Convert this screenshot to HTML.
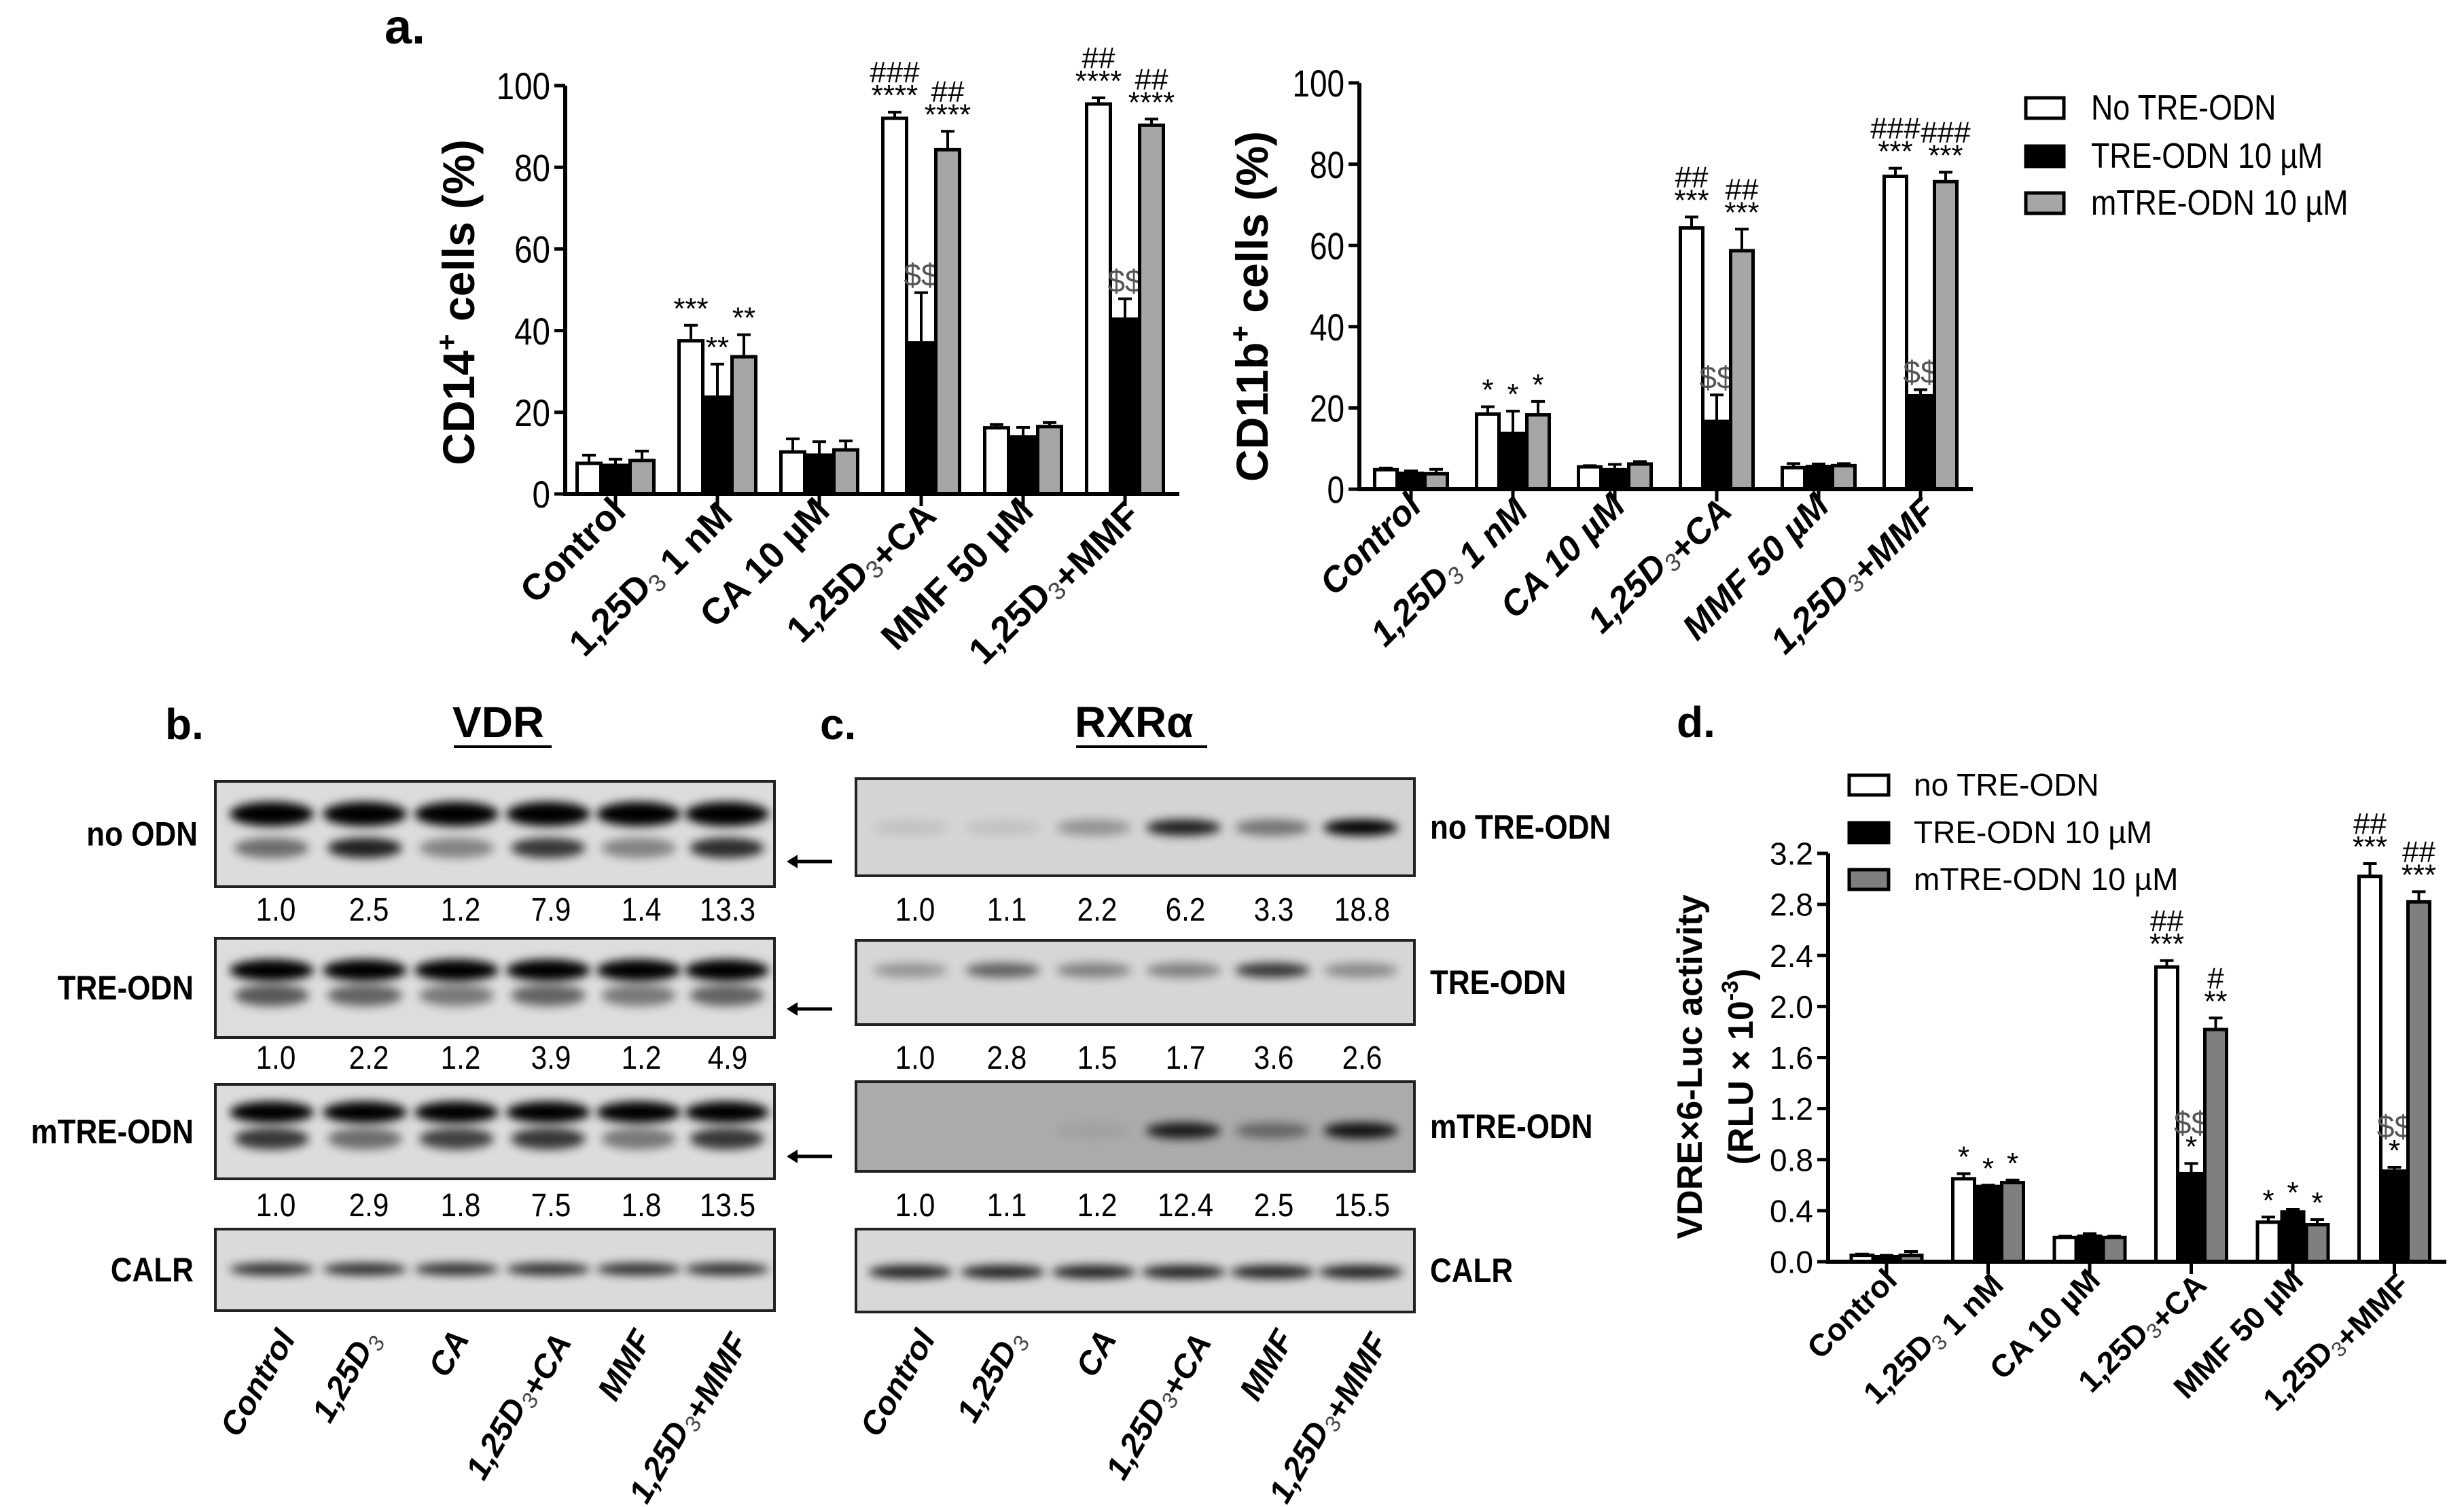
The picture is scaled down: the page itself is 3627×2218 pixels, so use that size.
<!DOCTYPE html>
<html><head><meta charset="utf-8"><title>Figure</title>
<style>
html,body{margin:0;padding:0;background:#fff;}
svg{display:block;font-family:"Liberation Sans",Arial,sans-serif;}
</style></head>
<body>
<svg id="fig" xmlns="http://www.w3.org/2000/svg" width="3627" height="2218" viewBox="0 0 3627 2218">
<defs>
<filter id="blur" x="-50%" y="-200%" width="200%" height="500%"><feGaussianBlur stdDeviation="7"/></filter>
</defs>
<g id="root"></g>
</svg>
<script>
// ---------- data ----------
const categories = ["Control","1,25D3 1 nM","CA 10 µM","1,25D3+CA","MMF 50 µM","1,25D3+MMF"];
const seriesNames = ["No TRE-ODN","TRE-ODN 10 µM","mTRE-ODN 10 µM"];
const seriesNamesD = ["no TRE-ODN","TRE-ODN 10 µM","mTRE-ODN 10 µM"];
// Panel a left: CD14+ (category order)
const cd14W = [7.5,37.5,10.3,92,16.2,95.5];
const cd14B = [7,23.7,9.5,37,14,42.8];
const cd14G = [8.2,33.6,10.8,84.3,16.5,90.3];
const cd14WE = [9.5,41.3,13.5,93.5,17,97];
const cd14BE = [8.5,31.8,12.8,49.3,16.3,47.8];
const cd14GE = [10.5,39,13,88.8,17.5,91.8];
const cd14Ann = [[["",""],["",""],["",""]],[["***",""],["**",""],["**",""]],[["",""],["",""],["",""]],[["****","###"],["$$",""],["****","##"]],[["",""],["",""],["",""]],[["****","##"],["$$",""],["****","##"]]];
const yTicksA = [0,20,40,60,80,100];
// Panel a right: CD11b+
const cd11W = [4.8,18.5,5.5,64.3,5.3,77];
const cd11B = [3.9,13.7,4.8,16.7,5.6,23];
const cd11G = [3.8,18.3,6.2,58.7,5.8,75.7];
const cd11WE = [5.2,20.3,5.8,67,6.3,79];
const cd11BE = [4.5,19.2,6.1,23.2,6.2,24.5];
const cd11GE = [4.9,21.6,6.8,64,6.3,78];
const cd11Ann = [[["",""],["",""],["",""]],[["*",""],["*",""],["*",""]],[["",""],["",""],["",""]],[["***","##"],["$$",""],["***","##"]],[["",""],["",""],["",""]],[["***","###"],["$$",""],["***","###"]]];
// Panel d: luciferase
const lucW = [0.05,0.65,0.19,2.31,0.31,3.02];
const lucB = [0.04,0.59,0.2,0.69,0.39,0.71];
const lucG = [0.05,0.62,0.19,1.82,0.29,2.82];
const lucWE = [0.06,0.69,0.2,2.36,0.35,3.12];
const lucBE = [0.05,0.6,0.22,0.77,0.41,0.74];
const lucGE = [0.08,0.64,0.2,1.91,0.33,2.9];
const lucAnn = [[["",""],["",""],["",""]],[["*",""],["*",""],["*",""]],[["",""],["",""],["",""]],[["***","##"],["*","$$"],["**","#"]],[["*",""],["*",""],["*",""]],[["***","##"],["*","$$"],["***","##"]]];
const yTicksD = [0,0.4,0.8,1.2,1.6,2.0,2.4,2.8,3.2];
// Blots
const laneLabels = ["Control","1,25D3","CA","1,25D3+CA","MMF","1,25D3+MMF"];
const vdrNoOdn = ["1.0","2.5","1.2","7.9","1.4","13.3"];
const vdrTre = ["1.0","2.2","1.2","3.9","1.2","4.9"];
const vdrMtre = ["1.0","2.9","1.8","7.5","1.8","13.5"];
const rxrNoTre = ["1.0","1.1","2.2","6.2","3.3","18.8"];
const rxrTre = ["1.0","2.8","1.5","1.7","3.6","2.6"];
const rxrMtre = ["1.0","1.1","1.2","12.4","2.5","15.5"];
const vdrLowerNoOdn = [0.5,0.85,0.4,0.75,0.4,0.8];
const vdrLowerTre = [0.6,0.55,0.45,0.55,0.45,0.55];
const vdrLowerMtre = [0.75,0.5,0.7,0.75,0.45,0.75];
const rxrBandNoTre = [0.08,0.08,0.3,0.85,0.45,1];
const rxrBandTre = [0.3,0.55,0.4,0.4,0.75,0.35];
const rxrBandMtre = [0,0,0.05,0.85,0.4,0.9];

// ---------- helpers ----------
const NS="http://www.w3.org/2000/svg";
const root=document.getElementById('root');
function el(tag,attrs,parent){const e=document.createElementNS(NS,tag);for(const k in attrs)e.setAttribute(k,attrs[k]);(parent||root).appendChild(e);return e;}
function addLabel(parent,str){
  const parts=str.split("D3");
  parts.forEach((p,i)=>{
    if(p){const t=document.createElementNS(NS,'tspan');t.textContent=p;parent.appendChild(t);}
    if(i<parts.length-1){
      const d=document.createElementNS(NS,'tspan');d.textContent="D";parent.appendChild(d);
      const s=document.createElementNS(NS,'tspan');s.textContent="3";s.setAttribute('font-size','0.68em');s.setAttribute('dy','10');s.setAttribute('font-weight','normal');s.setAttribute('fill','#444');parent.appendChild(s);
      const r=document.createElementNS(NS,'tspan');r.setAttribute('dy','-10');r.textContent="";parent.appendChild(r);
    }
  });
}

function barChart(cfg){
  const g=el('g',{});
  
  
  const yScale=v=>cfg.y0-(v-cfg.ymin)/(cfg.ymax-cfg.ymin)*(cfg.y0-cfg.ytop);
  const xScale=i=>cfg.x0+i*cfg.step;
  const fills=["#ffffff","#000000",cfg.gray];
  cfg.vals.forEach((arr,s)=>{
    arr.forEach((v,i)=>{
      const cx=xScale(i)+(s-1)*cfg.bw;
      const e=cfg.errs[s][i];
      const eline=el('line',{x1:cx,x2:cx,y1:yScale(v),y2:yScale(e),stroke:"#000","stroke-width":4},g);
      
      
      const cap=el('line',{x1:cx-10,x2:cx+10,y1:yScale(e),y2:yScale(e),stroke:"#000","stroke-width":4},g);
      
      
      const r=el('rect',{x:cx-cfg.bw/2+2,y:yScale(v),width:cfg.bw-4,height:Math.max(0,cfg.y0-yScale(v)),fill:fills[s],stroke:"#000","stroke-width":5},g);
      
      
      const a=cfg.ann[i][s];
      let yy=yScale(e)-10;
      a.forEach((txt)=>{
        if(!txt)return;
        const isD=txt[0]==='$';
        const t=el('text',{x:cx,y:yy,'text-anchor':'middle','font-size':isD?46:44,fill:isD?'#555':'#000'},g);
        t.textContent=txt;
        
        
        yy-= (txt[0]==='*')?34:46;
      });
    });
  });
  const ya=el('line',{x1:cfg.ax,x2:cfg.ax,y1:cfg.y0+3,y2:cfg.ytop,stroke:"#000","stroke-width":6},g);
  
  
  const xa=el('line',{x1:cfg.ax-3,x2:cfg.xend,y1:cfg.y0,y2:cfg.y0,stroke:"#000","stroke-width":6},g);
  
  
  cfg.ticks.forEach(v=>{
    const y=yScale(v);
    el('line',{x1:cfg.ax-16,x2:cfg.ax,y1:y,y2:y,stroke:"#000","stroke-width":5},g);
    const t=el('text',{x:0,y:0,'text-anchor':'end','font-size':cfg.tickFs,transform:`translate(${cfg.ax-22},${y+cfg.tickFs*0.36}) scale(${cfg.tickSx},1)`},g);
    t.textContent=cfg.tickFmt(v);
    
    
  });
  categories.forEach((c,i)=>{
    const x=xScale(i);
    el('line',{x1:x,x2:x,y1:cfg.y0,y2:cfg.y0+18,stroke:"#000","stroke-width":5},g);
    const t=el('text',{'text-anchor':'end','font-size':cfg.catFs,'font-weight':'bold','font-style':cfg.italic?'italic':'normal',transform:`translate(${x+18},${cfg.y0+cfg.catDy}) rotate(-45)`},g);
    addLabel(t,c);
    
    
  });
  return g;
}

// ---------- panel a ----------
const tA=el('text',{x:566,y:64,'font-size':72,'font-weight':'bold'});tA.textContent="a.";



barChart({name:'cd14-chart',x0:906,step:150,bw:39,ax:832,xend:1736,y0:727,ytop:126,ymin:0,ymax:100,ticks:yTicksA,tickFmt:v=>String(v),tickFs:56,tickSx:0.85,catFs:54,catDy:28,gray:"#a6a6a6",
  vals:[cd14W,cd14B,cd14G],errs:[cd14WE,cd14BE,cd14GE],ann:cd14Ann});
const yt1=el('text',{'text-anchor':'middle','font-size':66,'font-weight':'bold',transform:'translate(698,445) rotate(-90)'});
yt1.innerHTML='CD14<tspan font-size="42" dy="-26">+</tspan><tspan dy="26"> cells (%)</tspan>';



barChart({name:'cd11b-chart',x0:2077,step:150,bw:37,ax:2001,xend:2904,y0:720,ytop:122,ymin:0,ymax:100,ticks:yTicksA,tickFs:56,tickSx:0.82,tickFmt:v=>String(v),catFs:52,catDy:28,italic:true,gray:"#a6a6a6",
  vals:[cd11W,cd11B,cd11G],errs:[cd11WE,cd11BE,cd11GE],ann:cd11Ann});
const yt2=el('text',{'text-anchor':'middle','font-size':66,'font-weight':'bold',transform:'translate(1866,451) rotate(-90)'});
yt2.innerHTML='CD11b<tspan font-size="42" dy="-26">+</tspan><tspan dy="26"> cells (%)</tspan>';



const legA=el('g',{});


const legFills=["#fff","#000","#a6a6a6"];
[158,229,298].forEach((y,i)=>{
  const r=el('rect',{x:2982,y:y-14,width:56,height:30,fill:legFills[i],stroke:"#000","stroke-width":5},legA);
  
  
  const t=el('text',{'font-size':52,transform:`translate(3078,${y+18}) scale(0.86,1)`},legA);
  t.textContent=seriesNames[i];
  
  
});

// ---------- panel d ----------
const tD=el('text',{x:2468,y:1085,'font-size':64,'font-weight':'bold'});tD.textContent="d.";


barChart({name:'luciferase-chart',x0:2777,step:149.5,bw:36,ax:2691,xend:3601,y0:1857,ytop:1256,ymin:0,ymax:3.2,ticks:yTicksD,tickFmt:v=>v.toFixed(1),tickFs:46,tickSx:1,catFs:46,catDy:30,gray:"#7f7f7f",
  vals:[lucW,lucB,lucG],errs:[lucWE,lucBE,lucGE],ann:lucAnn});
const yt3=el('text',{'text-anchor':'middle','font-size':52,'font-weight':'bold',transform:'translate(2505,1570) rotate(-90)'});
yt3.textContent='VDRE×6-Luc activity';


const yt4=el('text',{'text-anchor':'middle','font-size':52,'font-weight':'bold',transform:'translate(2580,1570) rotate(-90)'});
yt4.innerHTML='(RLU × 10<tspan font-size="34" dy="-22">-3</tspan><tspan dy="22">)</tspan>';


const legD=el('g',{});


const legFillsD=["#fff","#000","#7f7f7f"];
[1155,1225,1294].forEach((y,i)=>{
  const r=el('rect',{x:2722,y:y-14,width:58,height:29,fill:legFillsD[i],stroke:"#000","stroke-width":5},legD);
  
  
  const t=el('text',{x:2817,y:y+16,'font-size':46},legD);
  t.textContent=seriesNamesD[i];
  
  
});

// ---------- blots ----------
function header(x,y,txt,name,under){
  const t=el('text',{x:x,y:y,'font-size':64,'font-weight':'bold'});t.textContent=txt;
  
  
  if(under){el('line',{x1:under[0],x2:under[1],y1:y+14,y2:y+14,stroke:"#000","stroke-width":4});}
}
header(243,1088,"b.","panel-b-label");
header(666,1085,"VDR","vdr-title",[668,812]);
header(1207,1088,"c.","panel-c-label");
header(1582,1085,"RXRα","rxr-title",[1584,1777]);

function blot(name,x,y,w,h,bg,lanesX,bands,label,labelX,anchor,arrowY){
  const g=el('g',{});
  
  
  el('rect',{x:x,y:y,width:w,height:h,fill:bg,stroke:"#222","stroke-width":4},g);
  const clip='c'+name;
  const cp=el('clipPath',{id:clip},g);el('rect',{x:x,y:y,width:w,height:h},cp);
  const bg2=el('g',{'clip-path':`url(#${clip})`},g);
  bands.forEach(b=>{
    b.vals.forEach((v,i)=>{
      if(v<=0.01)return;
      el('ellipse',{cx:lanesX[i],cy:b.y,rx:b.rx,ry:b.ry,fill:"#000",opacity:v,filter:"url(#blur)"},bg2);
    });
  });
  const t=el('text',{x:labelX,y:y+h/2+17,'text-anchor':anchor,'font-size':50,'font-weight':'bold',transform:`translate(${labelX*(1-0.88)},0) scale(0.88,1)`},g);
  t.textContent=label;
  
  
  if(arrowY){
    el('line',{x1:1165,x2:1225,y1:arrowY,y2:arrowY,stroke:"#000","stroke-width":5},g);
    el('path',{d:`M1158 ${arrowY} l16 -10 l0 20 z`,fill:"#000"},g);
  }
}
function numbers(name,xs,y,arr){
  arr.forEach((s,i)=>{
    const t=el('text',{x:xs[i],y:y,'text-anchor':'middle','font-size':48,transform:`translate(${xs[i]*0.12},0) scale(0.88,1)`});
    t.textContent=s;
    
    
  });
}
const lanesB=[400,537,672,807,940,1070];
const lanesC=[1340,1476,1610,1742,1873,2003];
const full=[1,1,1,1,1,1];
blot('vdr-no-odn-blot',317,1150,823,155,"#dcdcdc",lanesB,[{y:1198,rx:62,ry:18,vals:full},{y:1248,rx:55,ry:15,vals:vdrLowerNoOdn}],"no ODN",291,"end",1268);
blot('vdr-tre-odn-blot',317,1381,823,146,"#dddddd",lanesB,[{y:1428,rx:62,ry:16,vals:full},{y:1465,rx:55,ry:16,vals:vdrLowerTre}],"TRE-ODN",285,"end",1485);
blot('vdr-mtre-odn-blot',317,1596,823,139,"#dcdcdc",lanesB,[{y:1637,rx:62,ry:16,vals:full},{y:1676,rx:55,ry:16,vals:vdrLowerMtre}],"mTRE-ODN",285,"end",1702);
blot('vdr-calr-blot',317,1809,823,120,"#dadada",lanesB,[{y:1868,rx:62,ry:9,vals:[0.8,0.8,0.8,0.8,0.8,0.8]}],"CALR",285,"end",null);
numbers('vdr-no-odn-ratio',[406,543,678,811,944,1071],1355,vdrNoOdn);
numbers('vdr-tre-odn-ratio',[406,543,678,811,944,1071],1573,vdrTre);
numbers('vdr-mtre-odn-ratio',[406,543,678,811,944,1071],1790,vdrMtre);

blot('rxr-no-tre-blot',1260,1146,822,143,"#d4d4d4",lanesC,[{y:1218,rx:55,ry:12,vals:rxrBandNoTre}],"no TRE-ODN",2105,"start",null);
blot('rxr-tre-blot',1260,1384,822,124,"#d6d6d6",lanesC,[{y:1428,rx:55,ry:11,vals:rxrBandTre}],"TRE-ODN",2105,"start",null);
blot('rxr-mtre-blot',1260,1592,822,132,"#ababab",lanesC,[{y:1664,rx:55,ry:12,vals:rxrBandMtre}],"mTRE-ODN",2105,"start",null);
blot('rxr-calr-blot',1260,1809,822,122,"#d8d8d8",lanesC,[{y:1872,rx:62,ry:10,vals:[0.85,0.85,0.85,0.85,0.85,0.85]}],"CALR",2105,"start",null);
numbers('rxr-no-tre-ratio',[1347,1482,1615,1745,1875,2005],1355,rxrNoTre);
numbers('rxr-tre-ratio',[1347,1482,1615,1745,1875,2005],1573,rxrTre);
numbers('rxr-mtre-ratio',[1347,1482,1615,1745,1875,2005],1790,rxrMtre);

function laneLbls(name,ends){
  laneLabels.forEach((c,i)=>{
    const t=el('text',{'text-anchor':'end','font-size':48,'font-weight':'bold','font-style':'italic',transform:`translate(${ends[i]},${1970}) rotate(-60)`});
    addLabel(t,c);
    
    
  });
}
laneLbls('vdr-lane-label',[436,559,692,834,961,1094]);
laneLbls('rxr-lane-label',[1378,1508,1645,1776,1906,2036]);
</script>
</body></html>
